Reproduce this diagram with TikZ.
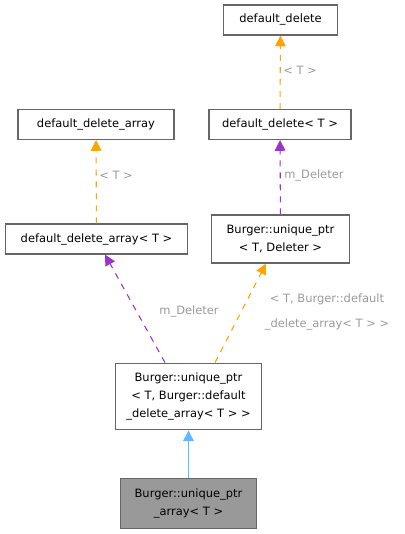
\documentclass[tikz,border=0pt]{standalone}
\usepackage{fontspec}
\setmainfont{DejaVu Sans}
\usetikzlibrary{calc,arrows.meta}
\definecolor{tmplorange}{HTML}{FFA500}
\definecolor{usepurple}{HTML}{9A32CD}
\definecolor{inhblue}{HTML}{63B8FF}
\definecolor{boxgray}{HTML}{666666}
\definecolor{lblgray}{HTML}{9A9A9A}

\begin{document}
\begin{tikzpicture}[x=0.75pt,y=-0.75pt,
    cls/.style={draw=boxgray,line width=0.9pt,fill=white,align=center,inner sep=0pt,minimum height=22.5pt,
      font=\fontsize{8.6}{13.8}\selectfont},
    lbl/.style={text=lblgray,inner sep=0pt,align=center,font=\fontsize{8.6}{18.75}\selectfont},
    tmpl/.style={draw=tmplorange,line width=0.8pt,dash pattern=on 4.5pt off 4.5pt,-{Triangle[length=8pt,width=8pt]}},
    usage/.style={draw=usepurple,line width=0.8pt,dash pattern=on 4.5pt off 4.5pt,-{Triangle[length=8pt,width=8pt]}},
    inherit/.style={draw=inhblue,line width=0.8pt,-{Triangle[length=8pt,width=8pt]}}]
  \useasboundingbox (0,0) rectangle (404,534);
  \node[cls,minimum width=86pt] (dd) at (280.5,20) {default\_delete};
  \node[cls,minimum width=117pt] (dda) at (96,124.5) {default\_delete\_array};
  \node[cls,minimum width=106.5pt] (ddT) at (280,124.5) {default\_delete< T >};
  \node[cls,minimum width=137pt] (ddaT) at (96.5,239) {default\_delete\_array< T >};
  \node[cls,minimum width=103pt,minimum height=36pt] (upD) at (280.5,239) {Burger::unique\_ptr\\< T, Deleter >};
  \node[cls,minimum width=109pt,minimum height=50pt] (upA) at (188.5,396.5) {Burger::unique\_ptr\\< T, Burger::default\\\_delete\_array< T > >};
  \node[cls,fill=black!40,minimum width=102pt,minimum height=37pt] (upArr) at (188.5,503.5) {Burger::unique\_ptr\\\_array< T >};
  \draw[tmpl] (ddT) -- (dd);
  \draw[tmpl] (ddaT) -- (dda);
  \draw[usage] (upD) -- (ddT);
  \draw[usage] ($(upA.north)+(-23.5,0)$) -- ($(ddaT.south)+(8.5,0)$);
  \draw[tmpl] ($(upA.north)+(26.5,0)$) -- ($(upD.south)+(-14.5,0)$);
  \draw[inherit] (upArr) -- (upA);
  \node[lbl,anchor=west] (l1) at (283,70) {< T >};
  \node[lbl,anchor=west] (l2) at (99,175) {< T >};
  \node[lbl,anchor=west] (l3) at (284,175) {m\_Deleter};
  \node[lbl] (l4) at (189,311) {m\_Deleter};
  \node[lbl] (l5) at (327,311.5) {< T, Burger::default\\\_delete\_array< T > >};
\end{tikzpicture}
\end{document}
